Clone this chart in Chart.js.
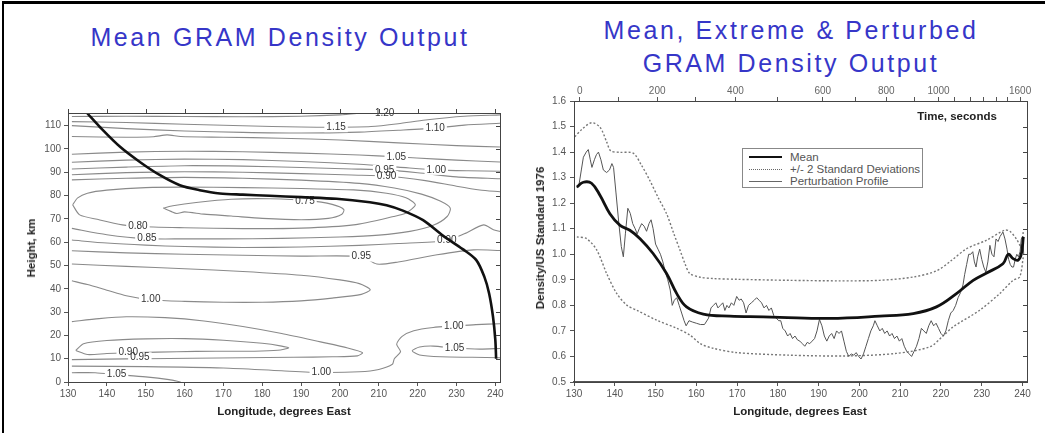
<!DOCTYPE html>
<html>
<head>
<meta charset="utf-8">
<script src="https://cdn.jsdelivr.net/npm/chart.js@4.4.1/dist/chart.umd.min.js"></script>
<style>
	html, body { margin: 0; padding: 0; background: #fff; }
	body { width: 1045px; height: 433px; position: relative; overflow: hidden; font-family: 'Liberation Sans', Arial, sans-serif; }
	#frame { position: absolute; left: 2px; top: 1px; width: 1043px; height: 432px; border-left: 2px solid #000; border-top: 3px solid #000; box-sizing: border-box; }
	.title { position: absolute; color: #3636c8; font-size: 25px; letter-spacing: 2.6px; white-space: nowrap; transform: translateX(-50%); line-height: 1; }
	.axt { position: absolute; font-weight: bold; font-size: 11.5px; color: #222; white-space: nowrap; transform: translate(-50%, -50%); }
	.axt.rot { transform: translate(-50%, -50%) rotate(-90deg); }
	#wrapL { position: absolute; left: 0; top: 90px; width: 520px; height: 343px; }
	#wrapR { position: absolute; left: 520px; top: 80px; width: 525px; height: 353px; }
	#legend { position: absolute; left: 742px; top: 148px; width: 181px; height: 40px; border: 1px solid #888; box-sizing: border-box; background: #fff; }
	.li { position: absolute; left: 47px; font-size: 11.5px; color: #555; white-space: nowrap; line-height: 12px; }
	.ls { position: absolute; left: -41px; top: 6px; width: 33px; height: 0; }
</style>
</head>
<body>
<div id="frame"></div>

<div class="title" style="left:280px; top:25px;">Mean GRAM Density Output</div>
<div class="title" style="left:791px; top:18px;">Mean, Extreme &amp; Perturbed</div>
<div class="title" style="left:791px; top:51px;">GRAM Density Output</div>

<div id="wrapL"><canvas id="left" width="520" height="343"></canvas></div>
<div id="wrapR"><canvas id="right" width="525" height="353"></canvas></div>

<div class="axt rot" style="left:31px; top:248px;">Height, km</div>
<div class="axt" style="left:284px; top:411px;">Longitude, degrees East</div>
<div class="axt rot" style="left:540px; top:238px;">Density/US Standard 1976</div>
<div class="axt" style="left:800px; top:411px;">Longitude, degrees East</div>
<div class="axt" style="left:957px; top:116px;">Time, seconds</div>

<div id="legend">
	<div class="li" style="top:2px;"><span class="ls" style="border-top:2.5px solid #111; top:5px;"></span>Mean</div>
	<div class="li" style="top:14px;"><span class="ls" style="border-top:1.5px dotted #666;"></span>+/- 2 Standard Deviations</div>
	<div class="li" style="top:26px;"><span class="ls" style="border-top:1px solid #666;"></span>Perturbation Profile</div>
</div>

<script>
	'use strict';

	// --- Data: axes ---

	const lonTicks = [130, 140, 150, 160, 170, 180, 190, 200, 210, 220, 230, 240];
	const heightTicks = [0, 10, 20, 30, 40, 50, 60, 70, 80, 90, 100, 110];
	const densityTicks = [0.5, 0.6, 0.7, 0.8, 0.9, 1.0, 1.1, 1.2, 1.3, 1.4, 1.5, 1.6];
	const timeTickLabels = ['0', '', '200', '', '400', '', '600', '', '800', '', '1000', '', '', '', '', '', '1600'];
	const timeTickLon = [131.4, 141, 150.4, 159.8, 169.6, 180, 191, 199, 206.6, 213.6, 219.4, 223.4, 227.2, 230.4, 233.6, 236.2, 239.4];

	// --- Data: left chart, contours [longitude, height km] ---

	const cTop = [[131, 113.9], [145, 114.0], [160, 113.9], [175, 113.8], [190, 114.0], [200, 114.6], [206, 115.4]];
	const c115 = [[131, 111.7], [145, 111.3], [160, 110.6], [175, 109.9], [190, 109.4], [199, 109.3], [208, 109.6], [215, 110.8], [222, 112.4], [232, 114.0], [241.2, 114.6]];
	const c110 = [[131, 110.0], [145, 108.7], [160, 107.7], [175, 107.1], [190, 106.8], [205, 107.2], [215, 108.0], [224.5, 108.9], [232, 110.2], [241.2, 111.0]];
	const c105a = [[131, 105.3], [145, 105.0], [152, 105.2], [155.5, 106.0], [159, 105.3], [170, 105.0], [185, 104.6], [200, 103.8], [215, 102.6], [230, 101.4], [241.2, 100.8]];
	const c105 = [[131, 97.7], [145, 98.6], [160, 99.0], [175, 98.8], [190, 98.2], [205, 97.4], [214.5, 96.6], [225, 95.6], [235, 94.8], [241.2, 94.4]];
	const c100 = [[131, 94.3], [145, 95.2], [160, 95.6], [175, 95.4], [190, 94.6], [205, 93.4], [215, 92.2], [224.8, 91.0], [233, 90.6], [241.2, 90.4]];
	const c095 = [[131, 91.4], [145, 92.2], [160, 92.8], [175, 92.6], [190, 92.0], [203, 91.4], [211.5, 91.0], [220, 89.8], [230, 88.0], [241.2, 87.2]];
	const c090 = [[131, 88.9], [145, 89.8], [160, 90.2], [175, 90.0], [190, 89.4], [203, 88.8], [212, 88.4], [222, 86.4], [230, 84.0], [236, 82.4], [241.2, 81.6]];
	const c085 = [[131, 86.7], [145, 87.4], [160, 87.8], [175, 87.4], [190, 86.6], [205, 85.2], [214, 83.2], [221, 80.6], [225.8, 77.6], [228.4, 74.6], [227.6, 71.0], [224, 67.2], [218, 64.6], [210, 63.0], [200, 62.2], [185, 61.6], [170, 61.4], [160, 61.4], [150, 61.5], [140, 63.2], [131, 65.9]];
	const c080 = [[131.2, 76], [132.5, 79], [135, 81], [140, 82.3], [150, 83.4], [160, 83.6], [175, 83.4], [190, 83.0], [203.5, 82.4], [212, 81], [217, 79], [219.4, 76], [217, 72.5], [213.8, 71], [203.5, 67.4], [190, 66.0], [175, 65.8], [160, 66.2], [148, 66.7], [144, 67.4], [138, 69.6], [133, 71.7], [131.2, 76]];
	const c075 = [[154.5, 74.6], [156.5, 73.2], [158, 72.3], [160, 73], [165, 72], [172, 71.2], [180, 70.2], [190, 69.6], [197, 70.2], [200.5, 72], [201, 74], [198, 76.2], [192, 77.8], [182, 78.6], [172, 78.4], [163, 77], [157, 75.6], [154.5, 74.6]];
	const c090b = [[131, 60.9], [140, 59.6], [150, 58.7], [160, 58.1], [175, 57.7], [190, 57.9], [205, 58.6], [215, 59.4], [227, 60.6], [232, 63.6], [237, 67.4], [239.5, 65.3], [241.2, 64.6]];
	const c095b = [[131, 56.3], [145, 55.4], [160, 54.8], [175, 54.4], [190, 54.0], [205.5, 53.8], [209.5, 50.6], [215, 51.5], [225, 54.6], [234.4, 56.7], [241.2, 56.4]];
	const c100b = [[131, 50.6], [145, 49.6], [160, 48.6], [175, 47.4], [190, 45.8], [200, 43.8], [205, 42.2], [207.8, 39.6], [205.5, 37.6], [198, 36.0], [190, 34.8], [180, 34.2], [170, 34.2], [160, 34.6], [151.3, 35.3], [145, 37.0], [140, 39.4], [135, 41.8], [131, 43.4]];
	const c095c = [[131, 25.9], [138, 27.2], [145, 28.0], [155, 27.6], [165, 26.2], [175, 23.8], [185, 20.8], [195, 17.2], [202, 14.6], [205.8, 12.6], [204.5, 11.2], [198, 10.8], [188, 10.6], [175, 10.4], [162, 10.2], [150, 10.0], [140, 9.8], [131, 9.6]];
	const c090c = [[132, 13.5], [134, 16.4], [140, 17.8], [150, 18.5], [160, 18.6], [170, 17.9], [180, 16.6], [185, 15.4], [186.8, 14.6], [184, 13.6], [178, 13.2], [168, 13.2], [158, 13.0], [148, 12.6], [140, 12.2], [135, 11.8], [132, 13.5]];
	const c100c = [[131, 6.8], [150, 6.6], [170, 6.0], [185, 4.8], [195.2, 4.1], [205, 4.4], [210, 5.4], [213.5, 7.6], [214, 10], [215.6, 13], [214.6, 16.2], [216, 19.6], [219, 22], [224, 23.4], [229.3, 24.0], [235, 24.6], [241.2, 25.0]];
	const c105b = [[131, 4.0], [137, 4.0], [142.5, 3.2], [150, 2.2], [156, 1.0], [159, 0]];
	const c105c = [[241.2, 14.4], [236, 14.1], [229.5, 14.6], [224, 15.4], [220.5, 15.0], [218.6, 13.4], [220.5, 11.6], [226, 10.8], [234, 10.6], [241.2, 10.4]];

	const contours = [cTop, c115, c110, c105a, c105, c100, c095, c090, c085, c080, c075, c090b, c095b, c100b, c095c, c090c, c100c, c105b, c105c];

	const contourLabels = [
		['1.20', 211.5, 115.2], ['1.15', 199, 109.3], ['1.10', 224.5, 108.9], ['1.05', 214.5, 96.6],
		['1.00', 224.8, 91.0], ['0.95', 211.5, 91.0], ['0.90', 212, 88.4], ['0.75', 191, 77.6],
		['0.80', 148, 66.7], ['0.85', 150.3, 61.5], ['0.90', 227.5, 60.8], ['0.95', 205.5, 53.8],
		['1.00', 151.3, 35.3], ['0.90', 145.5, 12.8], ['0.95', 148.5, 10.6], ['1.05', 142.5, 3.2],
		['1.00', 195.2, 4.1], ['1.00', 229.3, 24.0], ['1.05', 229.5, 14.6],
	];

	// trajectory of the mean profile [longitude, height km]
	const trajectory = [[135, 115.2], [138.2, 109.4], [143.4, 100.9], [148.5, 94.4], [153.7, 88.7], [158.8, 84.4], [163.9, 82.3], [169.1, 80.9], [175, 80.4], [181.9, 79.9], [190, 79.3], [199.1, 78.6], [207.7, 77.1], [212, 75.8], [216.2, 73.5], [221.4, 69.4], [226.5, 62.8], [231.6, 57], [235.1, 52.3], [237.2, 45], [238.4, 38], [239.4, 28], [240, 18], [240.2, 10]];

	// --- Data: right chart [longitude, density ratio] ---

	const meanDensity = [[130.7, 1.263], [132.3, 1.282], [134.3, 1.278], [136.4, 1.23], [138.8, 1.159], [141.3, 1.113], [143.7, 1.094], [146.2, 1.061], [149.4, 1.003], [152.7, 0.925], [155.2, 0.846], [157.6, 0.794], [161.7, 0.766], [168.2, 0.758], [176.4, 0.755], [180.5, 0.753], [192.7, 0.749], [205, 0.758], [213.2, 0.768], [218.9, 0.794], [223.8, 0.846], [227.9, 0.898], [231.2, 0.927], [235.2, 0.963], [236.5, 1.0], [237.7, 0.983], [238.9, 0.977], [239.7, 1.0], [240.2, 1.068]];

	const upperDensity = [[130.2, 1.46], [132, 1.49], [134.3, 1.515], [136.4, 1.497], [138, 1.44], [139, 1.405], [141.3, 1.399], [144.5, 1.396], [146.5, 1.35], [148.6, 1.289], [150.7, 1.22], [152.7, 1.159], [154.5, 1.08], [156, 1.016], [157.3, 0.96], [158.4, 0.925], [161, 0.91], [164.1, 0.905], [170, 0.902], [182.9, 0.898], [195, 0.896], [205, 0.898], [213.2, 0.911], [218.9, 0.935], [222.5, 0.975], [226.3, 1.022], [231.2, 1.055], [235.6, 1.094], [236.9, 1.09], [238.5, 1.06], [239.7, 1.03], [240.2, 1.09]];

	const lowerDensity = [[130.7, 1.068], [133.1, 1.061], [135.6, 1.016], [138, 0.925], [140.5, 0.846], [143, 0.80], [145.4, 0.781], [150.3, 0.742], [155.2, 0.71], [158.4, 0.684], [161, 0.65], [164.1, 0.632], [170, 0.615], [182.9, 0.605], [196.8, 0.602], [209.1, 0.612], [217.3, 0.638], [220.5, 0.68], [223, 0.716], [229.5, 0.781], [234.4, 0.846], [237.7, 0.898], [239.3, 0.911], [240.2, 0.99]];

	const perturbedDensity = [[130.7, 1.26], [131.2, 1.27], [131.8, 1.33], [132.3, 1.38], [133, 1.40], [133.5, 1.41], [134, 1.37], [134.4, 1.34], [135, 1.37], [135.5, 1.39], [136, 1.40], [136.6, 1.37], [137.2, 1.33], [138, 1.32], [138.7, 1.33], [139.3, 1.355], [139.7, 1.34], [140.3, 1.24], [141, 1.12], [141.6, 1.03], [142.1, 0.99], [142.6, 1.08], [143.2, 1.18], [143.8, 1.16], [144.4, 1.12], [145, 1.10], [145.5, 1.08], [146, 1.10], [146.6, 1.12], [147.2, 1.11], [147.8, 1.09], [148.4, 1.12], [148.9, 1.135], [149.4, 1.10], [150, 1.04], [150.6, 1.02], [151.2, 1.00], [151.8, 0.97], [152.4, 0.93], [153, 0.90], [153.6, 0.86], [154.1, 0.80], [154.6, 0.82], [155.2, 0.83], [155.8, 0.80], [156.4, 0.77], [157, 0.74], [157.5, 0.72], [158.2, 0.74], [159, 0.735], [160, 0.73], [161, 0.725], [162, 0.725], [163, 0.75], [163.6, 0.79], [164.2, 0.80], [164.8, 0.81], [165.3, 0.79], [165.9, 0.80], [166.5, 0.81], [167, 0.78], [167.5, 0.80], [168, 0.79], [168.6, 0.81], [169.2, 0.80], [169.9, 0.835], [170.5, 0.82], [171, 0.825], [171.6, 0.81], [172.2, 0.77], [172.8, 0.80], [173.5, 0.81], [174.2, 0.82], [174.8, 0.83], [175.4, 0.82], [176, 0.81], [176.6, 0.79], [177.2, 0.80], [177.8, 0.78], [178.4, 0.79], [179, 0.76], [179.6, 0.75], [180.2, 0.74], [180.7, 0.74], [181.2, 0.71], [181.8, 0.70], [182.4, 0.68], [183, 0.69], [183.6, 0.67], [184.2, 0.68], [184.8, 0.665], [185.4, 0.66], [186, 0.65], [186.6, 0.64], [187.2, 0.655], [187.8, 0.65], [188.4, 0.66], [189, 0.67], [189.6, 0.70], [190.2, 0.745], [190.8, 0.72], [191.4, 0.68], [192, 0.66], [192.6, 0.68], [193.2, 0.69], [193.8, 0.67], [194.4, 0.70], [195, 0.69], [195.6, 0.70], [196.2, 0.66], [196.8, 0.62], [197.4, 0.60], [198, 0.61], [198.6, 0.605], [199.2, 0.615], [199.8, 0.60], [200.4, 0.59], [201, 0.61], [201.6, 0.64], [202.2, 0.67], [202.8, 0.70], [203.4, 0.72], [203.8, 0.74], [204.4, 0.72], [205, 0.70], [205.6, 0.71], [206.2, 0.69], [206.8, 0.70], [207.4, 0.68], [208, 0.69], [208.6, 0.67], [209.2, 0.68], [209.8, 0.66], [210.4, 0.67], [211, 0.64], [211.6, 0.62], [212.2, 0.61], [212.8, 0.60], [213.4, 0.62], [214, 0.64], [214.6, 0.67], [215.2, 0.71], [215.8, 0.70], [216.4, 0.69], [217, 0.72], [217.6, 0.74], [218.2, 0.72], [218.8, 0.73], [219.4, 0.71], [220, 0.69], [220.6, 0.68], [221.2, 0.70], [221.8, 0.74], [222.4, 0.77], [223, 0.78], [223.6, 0.80], [224.2, 0.83], [224.8, 0.85], [225.4, 0.88], [225.8, 0.92], [226.3, 0.96], [226.8, 1.00], [227.3, 1.00], [227.8, 1.01], [228.2, 0.97], [228.6, 0.95], [229, 0.99], [229.5, 1.02], [230, 0.98], [230.5, 0.95], [231, 0.93], [231.5, 0.97], [232, 1.035], [232.5, 1.00], [233, 0.99], [233.5, 1.06], [234, 1.05], [234.5, 1.07], [235.2, 1.087], [235.7, 1.06], [236.2, 1.02], [236.6, 0.98], [237, 0.96], [237.4, 0.95], [237.8, 0.95], [238.2, 0.98], [238.6, 1.00], [239, 0.99], [239.4, 1.01], [239.7, 1.06], [240, 1.07], [240.3, 1.0]];

	// --- Helpers ---

	const TICK_FONT = { family: "'Liberation Sans', Arial, sans-serif", size: 10 };
	const toXY = (pts) => pts.map(p => ({ x: p[0], y: p[1] }));

	function fixedTicks(values) {
		return function (scale) {
			scale.ticks = values.map(v => ({ value: v }));
		};
	}

	function axisGrid() {
		return { display: true, drawOnChartArea: false, drawTicks: true, tickLength: 4, color: '#555' };
	}

	// frame around the plot with small ticks on the free sides
	function framePlugin(topTicks, rightTicks) {
		return {
			id: 'frame',
			afterDraw(chart) {
				const { ctx, chartArea: a, scales } = chart;
				ctx.save();
				ctx.strokeStyle = '#444';
				ctx.lineWidth = 1;
				ctx.strokeRect(a.left + 0.5, a.top + 0.5, a.right - a.left, a.bottom - a.top);
				ctx.beginPath();
				if (topTicks) {
					topTicks.forEach(v => {
						const px = Math.round(scales.x.getPixelForValue(v)) + 0.5;
						ctx.moveTo(px, a.top);
						ctx.lineTo(px, a.top - 4);
					});
				}
				rightTicks.forEach(v => {
					const py = Math.round(scales.y.getPixelForValue(v)) + 0.5;
					ctx.moveTo(a.right, py);
					ctx.lineTo(a.right - 4, py);
				});
				ctx.stroke();
				ctx.restore();
			},
		};
	}

	// contour value labels, drawn just before the trajectory
	const labelPlugin = {
		id: 'contourLabels',
		afterDatasetDraw(chart, args) {
			if (args.index !== 1) return;
			const { ctx, scales } = chart;
			ctx.save();
			ctx.font = "10px 'Liberation Sans', Arial, sans-serif";
			ctx.textAlign = 'center';
			ctx.textBaseline = 'middle';
			const items = contourLabels.map(([t, lon, h]) => ({
				t, px: scales.x.getPixelForValue(lon), py: scales.y.getPixelForValue(h), w: ctx.measureText(t).width,
			}));
			ctx.fillStyle = '#fff';
			items.forEach(it => ctx.fillRect(it.px - it.w / 2 - 2, it.py - 5, it.w + 4, 10));
			ctx.fillStyle = '#333';
			items.forEach(it => ctx.fillText(it.t, it.px, it.py));
			ctx.restore();
		},
	};

	// --- Left chart: contours ---

	function createLeftChart() {
		const datasets = [{
			data: toXY(trajectory),
			showLine: true,
			borderColor: '#111',
			borderWidth: 2.6,
			pointRadius: 0,
			tension: 0.3,
		}];
		contours.forEach(c => {
			datasets.push({
				data: toXY(c),
				showLine: true,
				borderColor: '#8a8a8a',
				borderWidth: 1.1,
				pointRadius: 0,
				tension: 0.25,
			});
		});

		new Chart(document.getElementById('left'), {
			type: 'scatter',
			data: { datasets },
			options: {
				responsive: false,
				animation: false,
				devicePixelRatio: 1,
				layout: { padding: { top: 23, right: 20, left: 0, bottom: 0 } },
				plugins: { legend: { display: false }, tooltip: { enabled: false } },
				scales: {
					x: {
						type: 'linear', min: 130, max: 241.2,
						afterBuildTicks: fixedTicks(lonTicks),
						afterFit: (s) => { s.height = 51; },
						grid: axisGrid(),
						border: { display: true, color: '#444' },
						ticks: { font: TICK_FONT, color: '#555', padding: 2, autoSkip: false, maxRotation: 0 },
					},
					y: {
						type: 'linear', min: 0, max: 115.4,
						afterBuildTicks: fixedTicks(heightTicks),
						afterFit: (s) => { s.width = 68; },
						grid: axisGrid(),
						border: { display: true, color: '#444' },
						ticks: { font: TICK_FONT, color: '#555', padding: 3 },
					},
				},
			},
			plugins: [labelPlugin, framePlugin(lonTicks, heightTicks)],
		});
	}

	// --- Right chart: density profiles ---

	function createRightChart() {
		const datasets = [
			{ data: toXY(meanDensity), borderColor: '#111', borderWidth: 2.8, tension: 0.4 },
			{ data: toXY(perturbedDensity), borderColor: '#555', borderWidth: 1, tension: 0 },
			{ data: toXY(upperDensity), borderColor: '#777', borderWidth: 1.4, borderDash: [2, 2], tension: 0.3 },
			{ data: toXY(lowerDensity), borderColor: '#777', borderWidth: 1.4, borderDash: [2, 2], tension: 0.3 },
		].map(d => Object.assign({ showLine: true, pointRadius: 0 }, d));

		new Chart(document.getElementById('right'), {
			type: 'scatter',
			data: { datasets },
			options: {
				responsive: false,
				animation: false,
				devicePixelRatio: 1,
				layout: { padding: { top: 0, right: 18, left: 0, bottom: 0 } },
				plugins: { legend: { display: false }, tooltip: { enabled: false } },
				scales: {
					x: {
						type: 'linear', min: 130, max: 241.1,
						afterBuildTicks: fixedTicks(lonTicks),
						afterFit: (s) => { s.height = 51; },
						grid: axisGrid(),
						border: { display: true, color: '#555', width: 1.5 },
						ticks: { font: TICK_FONT, color: '#555', padding: 2, autoSkip: false, maxRotation: 0 },
					},
					x2: {
						type: 'linear', position: 'top', min: 130, max: 241.1,
						afterBuildTicks: fixedTicks(timeTickLon),
						afterFit: (s) => { s.height = 21; },
						grid: axisGrid(),
						border: { display: true, color: '#444' },
						ticks: {
							font: TICK_FONT, color: '#666', padding: 0, autoSkip: false, maxRotation: 0,
							callback: (value, index) => timeTickLabels[index],
						},
					},
					y: {
						type: 'linear', min: 0.5, max: 1.6,
						afterBuildTicks: fixedTicks(densityTicks),
						afterFit: (s) => { s.width = 54; },
						grid: axisGrid(),
						border: { display: true, color: '#444' },
						ticks: { font: TICK_FONT, color: '#555', padding: 4, callback: (v) => v.toFixed(1) },
					},
				},
			},
			plugins: [framePlugin(null, densityTicks)],
		});
	}

	createLeftChart();
	createRightChart();
</script>
</body>
</html>
